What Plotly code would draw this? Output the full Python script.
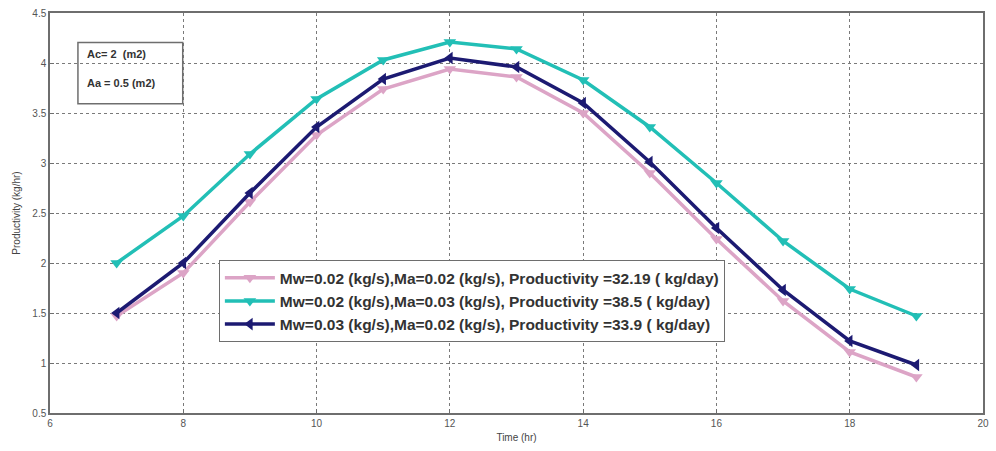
import plotly.graph_objects as go

# Hourly productivity (kg/hr) for three mass-flow configurations
hours = [7, 8, 9, 10, 11, 12, 13, 14, 15, 16, 17, 18, 19]
prod_w002_a002 = [1.47, 1.90, 2.61, 3.28, 3.74, 3.94, 3.86, 3.50, 2.90, 2.24, 1.62, 1.11, 0.86]
prod_w002_a003 = [2.00, 2.47, 3.09, 3.64, 4.03, 4.21, 4.14, 3.83, 3.36, 2.80, 2.22, 1.74, 1.47]
prod_w003_a002 = [1.50, 2.00, 2.70, 3.36, 3.84, 4.05, 3.96, 3.60, 3.01, 2.35, 1.73, 1.22, 0.98]

labels = [
    "Mw=0.02 (kg/s),Ma=0.02 (kg/s), Productivity =32.19 ( kg/day)",
    "Mw=0.02 (kg/s),Ma=0.03 (kg/s), Productivity =38.5 ( kg/day)",
    "Mw=0.03 (kg/s),Ma=0.02 (kg/s), Productivity =33.9 ( kg/day)",
]
colors = ["#dca4c6", "#22bfb6", "#1c1a72"]
symbols = ["triangle-down", "triangle-down", "triangle-left"]
series = [prod_w002_a002, prod_w002_a003, prod_w003_a002]

x_ticks = [6, 8, 10, 12, 14, 16, 18, 20]
y_ticks = [0.5, 1, 1.5, 2, 2.5, 3, 3.5, 4, 4.5]

fig = go.Figure()
for i, (ys, name) in enumerate(zip(series, labels)):
    fig.add_trace(go.Scatter(
        x=hours, y=ys, name=f"<b>{name}</b>", mode="lines+markers",
        line=dict(color=colors[i], width=3.5),
        marker=dict(symbol=symbols[i], size=11, color=colors[i]),
        legendgroup=f"g{i}",
    ))

axis_common = dict(
    showline=True, linecolor="#6e6e6e", linewidth=1.5, mirror=True,
    showgrid=True, gridcolor="#7a7a7a", griddash="dot", gridwidth=1,
    zeroline=False, ticks="inside", ticklen=4, tickcolor="#6e6e6e",
    tickfont=dict(family="Liberation Sans Narrow, Arial Narrow, Liberation Sans, Arial", size=10, color="#555555"),
)

fig.update_layout(
    width=996, height=451,
    margin=dict(l=50, r=11, t=7, b=38),
    paper_bgcolor="white", plot_bgcolor="white",
    showlegend=True,
    legend=dict(
        x=0.181, y=0.382, xanchor="left", yanchor="top",
        bgcolor="white", bordercolor="#6e6e6e", borderwidth=1,
        font=dict(family="Liberation Sans, Arial", size=15.5, color="#333333"),
        tracegroupgap=0, itemwidth=50,
    ),
    xaxis=dict(range=[6, 20], tickvals=x_ticks, ticktext=[str(v) for v in x_ticks],
               title=dict(text="Time (hr)", standoff=6,
                          font=dict(family="Liberation Sans Narrow, Arial Narrow, Liberation Sans", size=10, color="#444444")),
               **axis_common),
    yaxis=dict(range=[0.5, 4.5], tickvals=y_ticks, ticktext=[f"{v:g}" for v in y_ticks],
               title=dict(text="Productivity (kg/hr)", standoff=10,
                          font=dict(family="Liberation Sans Narrow, Arial Narrow, Liberation Sans", size=10, color="#444444")),
               **axis_common),
)

# Collector and absorber area note in the upper-left corner
fig.add_shape(type="rect", xref="paper", yref="paper",
              x0=(78 - 50) / 935, x1=(183 - 50) / 935,
              y0=(413 - 99) / 406, y1=(413 - 37) / 406,
              line=dict(color="#6e6e6e", width=1.5), fillcolor="rgba(0,0,0,0)")
fig.add_annotation(xref="paper", yref="paper", x=(85 - 50) / 935, y=(413 - 49) / 406,
                   text="<b>Ac= 2&nbsp;&nbsp;(m2)</b>", showarrow=False, xanchor="left", yanchor="middle",
                   font=dict(family="Liberation Sans Narrow, Arial Narrow, Liberation Sans", size=11, color="#333333"))
fig.add_annotation(xref="paper", yref="paper", x=(85 - 50) / 935, y=(413 - 78) / 406,
                   text="<b>Aa = 0.5 (m2)</b>", showarrow=False, xanchor="left", yanchor="middle",
                   font=dict(family="Liberation Sans Narrow, Arial Narrow, Liberation Sans", size=11, color="#333333"))

fig.write_html("out.html")
